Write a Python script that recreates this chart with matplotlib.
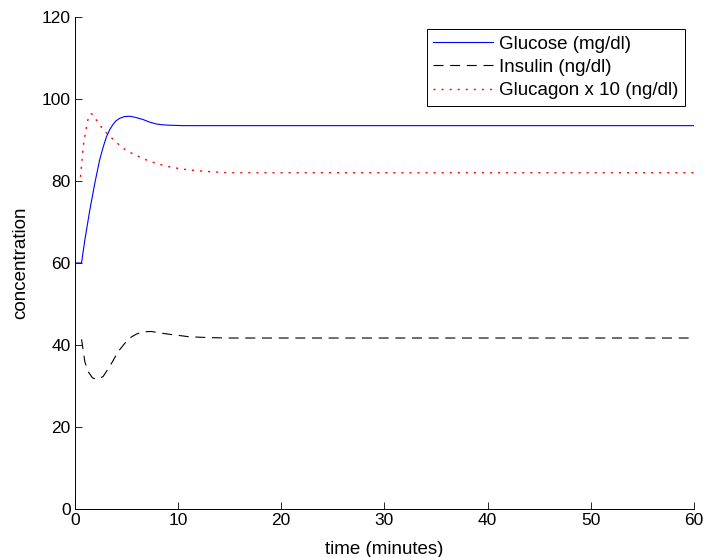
import matplotlib
matplotlib.use('Agg')
import matplotlib.pyplot as plt

# values (minutes, concentration)
glucose_t = [0, 0.65, 0.97, 1.45, 1.94, 2.4, 2.75, 3.07, 3.4, 3.7, 4.0, 4.36, 4.8, 5.3, 5.9, 6.6, 7.2, 7.9, 8.5, 9.2, 10.5, 12, 15, 20, 30, 40, 50, 60]
glucose_v = [60, 60, 65.6, 72.9, 79.5, 85.1, 88.3, 90.8, 92.6, 93.8, 94.7, 95.3, 95.7, 95.8, 95.5, 95.0, 94.4, 93.9, 93.7, 93.6, 93.5, 93.5, 93.5, 93.5, 93.5, 93.5, 93.5, 93.5]

insulin_t = [0.65, 0.8, 0.97, 1.29, 1.7, 2.1, 2.74, 3.55, 4.2, 4.84, 5.5, 6.0, 6.6, 7.4, 8.1, 8.9, 9.85, 11.1, 13, 15, 20, 30, 40, 50, 60]
insulin_v = [41.4, 38.8, 35.9, 33.5, 32.0, 31.6, 32.3, 35.5, 38.4, 40.4, 42.0, 42.7, 43.2, 43.3, 43.0, 42.7, 42.4, 42.0, 41.8, 41.7, 41.7, 41.7, 41.7, 41.7, 41.7]

glucagon_t = [0.55, 0.65, 0.8, 0.9, 1.05, 1.2, 1.35, 1.55, 1.75, 2.03, 2.5, 3.0, 3.6, 4.26, 4.94, 5.65, 6.36, 7.14, 7.9, 8.7, 9.5, 10.4, 11.1, 11.9, 13.5, 15, 20, 30, 40, 50, 60]
glucagon_v = [81.0, 83.9, 87.9, 90.0, 92.0, 94.2, 95.8, 96.4, 96.2, 95.1, 93.4, 91.9, 90.4, 88.9, 87.5, 86.6, 85.8, 84.9, 84.3, 83.7, 83.3, 82.9, 82.7, 82.5, 82.2, 82.0, 82.0, 82.0, 82.0, 82.0, 82.0]

plt.rcParams['font.family'] = ['Liberation Sans', 'DejaVu Sans']
plt.rcParams['font.size'] = 13.5

fig = plt.figure(figsize=(7.06, 5.57), dpi=100)
ax = fig.add_axes([0.106, 0.0862, 0.877, 0.8833])

ax.plot(glucose_t, glucose_v, color='blue', lw=0.8, label='Glucose (mg/dl)')
ax.plot(insulin_t, insulin_v, color='black', lw=0.8, linestyle=(0, (9, 6)), label='Insulin (ng/dl)')
ax.plot(glucagon_t, glucagon_v, color='red', lw=1.0, linestyle=(0, (1.5, 4.3)), label='Glucagon x 10 (ng/dl)')

ax.set_xlim(0, 60)
ax.set_ylim(0, 120)
ax.set_xticks(range(0, 61, 10))
ax.set_yticks(range(0, 121, 20))
ax.tick_params(direction='in', length=5, width=0.6, pad=3, labelsize=12.5)
ax.spines['top'].set_visible(False)
ax.spines['right'].set_visible(False)
for s in ('left', 'bottom'):
    ax.spines[s].set_linewidth(0.7)

ax.set_xlabel('time (minutes)', labelpad=9)
ax.set_ylabel('concentration', labelpad=9)

leg = ax.legend(loc='upper right', bbox_to_anchor=(0.9855, 0.9756), fancybox=False,
                edgecolor='black', framealpha=1, borderpad=0.35, labelspacing=0.33,
                handlelength=3.2, handletextpad=0.32, borderaxespad=0)
leg.get_frame().set_linewidth(0.7)

fig.savefig('out.png', dpi=100)
